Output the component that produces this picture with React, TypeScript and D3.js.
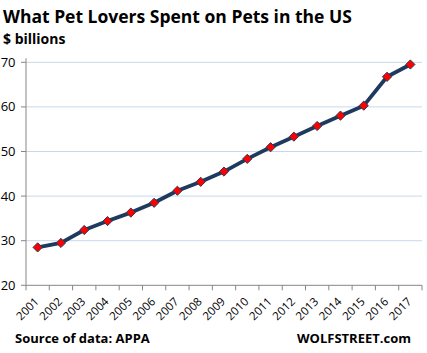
import React from "react";
import * as d3 from "d3";

const years = ["2001","2002","2003","2004","2005","2006","2007","2008","2009","2010","2011","2012","2013","2014","2015","2016","2017"];
const spending = [28.5, 29.5, 32.4, 34.4, 36.3, 38.5, 41.2, 43.2, 45.5, 48.35, 50.96, 53.33, 55.72, 58.04, 60.28, 66.75, 69.51];
const yTicks = [20, 30, 40, 50, 60, 70];
const titleText = "What Pet Lovers Spent on Pets in the US";
const unitText = "$ billions";
const sourceText = "Source of data: APPA";
const brandText = "WOLFSTREET.com";

const W = 427, H = 353;
const left = 26, right = 422, top = 62.3, bottom = 285.3;

export default function App() {
  const x = d3.scaleBand<string>().domain(years).range([left, right]).padding(0);
  const y = d3.scaleLinear().domain([20, 70]).range([bottom, top]);
  const cx = (yr: string) => (x(yr) as number) + x.bandwidth() / 2;
  const line = d3.line<number>().x((_, i) => cx(years[i])).y((v) => y(v));
  const fontT = "'Open Sans', 'Noto Sans', sans-serif";
  const ds = 4.6;
  return (
    <svg width={W} height={H} style={{ position: "absolute", left: 0, top: 0, background: "#fff" }}>
      <text x={3} y={23} fontFamily={fontT} fontWeight={700} fontSize={17.5} fill="#000">{titleText}</text>
      <text x={3} y={44} fontFamily={fontT} fontWeight={700} fontSize={14} fill="#000">{unitText}</text>
      {yTicks.filter((t) => t > 20).map((t) => (
        <line key={"g" + t} x1={left} x2={right} y1={y(t)} y2={y(t)} stroke="#C6D9EC" strokeWidth={1} />
      ))}
      {yTicks.map((t) => (
        <g key={"yt" + t}>
          <line x1={left - 5} x2={left} y1={y(t)} y2={y(t)} stroke="#868686" />
          <text x={15.5} y={y(t)} dy="0.35em" textAnchor="end" fontFamily={fontT} fontSize={13} fill="#000">{t}</text>
        </g>
      ))}
      <line x1={left} x2={left} y1={top - 4} y2={bottom} stroke="#868686" />
      <line x1={left} x2={right} y1={bottom} y2={bottom} stroke="#868686" />
      {years.concat(["end"]).map((yr, i) => {
        const xx = left + i * x.bandwidth();
        return <line key={"xt" + i} x1={xx} x2={xx} y1={bottom} y2={bottom + 5} stroke="#868686" />;
      })}
      {years.map((yr) => (
        <text key={"xl" + yr} transform={`translate(${cx(yr) + 2},${bottom + 17}) rotate(-45)`} textAnchor="end"
          fontFamily={fontT} fontSize={11.5} fill="#000">{yr}</text>
      ))}
      <path d={line(spending) || ""} fill="none" stroke="#1F3A5F" strokeWidth={3.8} strokeLinejoin="round" />
      {spending.map((v, i) => {
        const px = cx(years[i]), py = y(v);
        return (
          <path key={"m" + i} d={`M${px},${py - ds}L${px + ds},${py}L${px},${py + ds}L${px - ds},${py}Z`}
            fill="#FF0000" stroke="#2B3A55" strokeWidth={1} />
        );
      })}
      <text x={15} y={343} fontFamily={fontT} fontWeight={700} fontSize={13} fill="#000">{sourceText}</text>
      <text x={411} y={343} textAnchor="end" fontFamily={fontT} fontWeight={700} fontSize={13} fill="#000">{brandText}</text>
    </svg>
  );
}
